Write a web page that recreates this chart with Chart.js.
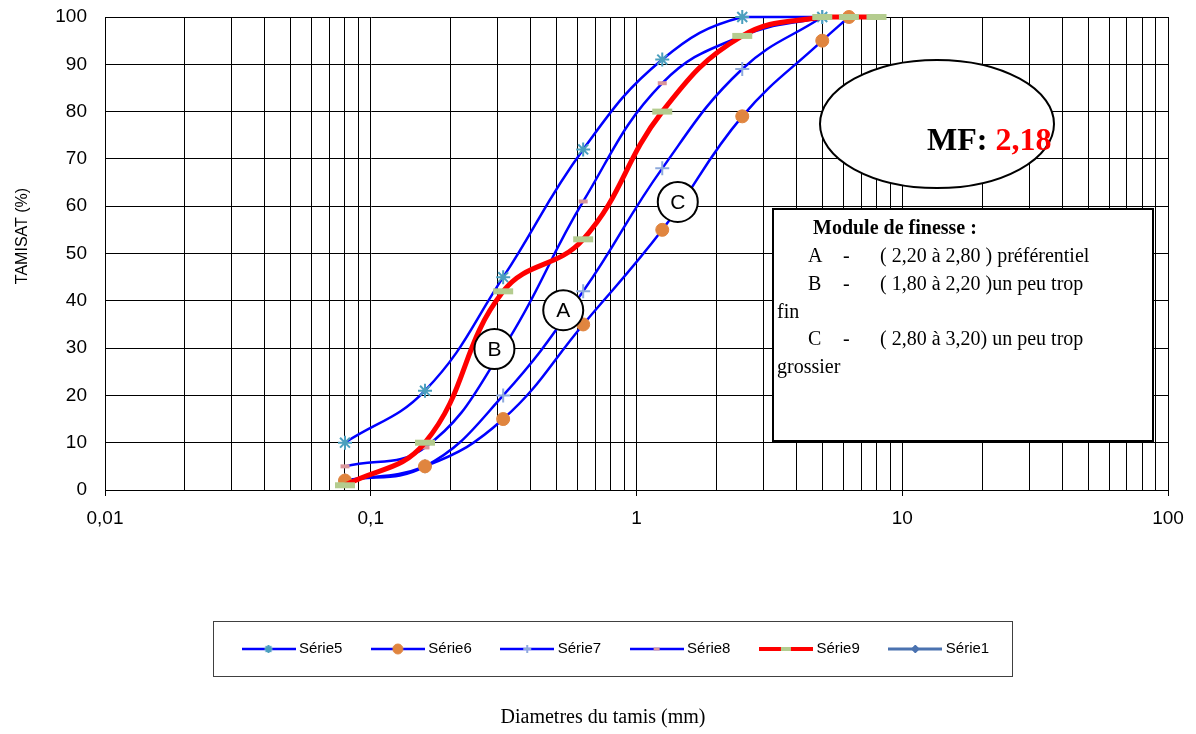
<!DOCTYPE html>
<html>
<head>
<meta charset="utf-8">
<script src="https://cdn.jsdelivr.net/npm/chart.js@4.4.0/dist/chart.umd.min.js"></script>
<style>
  html, body { margin: 0; padding: 0; background: #fff; }
  #wrap { width: 1196px; height: 734px; }
</style>
</head>
<body>
<div id="wrap"><canvas id="chart"></canvas></div>
<script>
// sieve openings (mm) and passing percentages
const sieves = [0.08, 0.16, 0.315, 0.63, 1.25, 2.5, 5, 6.3, 8];
const serie5 = [10, 21, 45, 72, 91, 100, 100];
const serie6 = [2, 5, 15, 35, 55, 79, 95, 100];
const serie7 = [2, 5, 20, 42, 68, 89, 100];
const serie8 = [5, 9, 30, 61, 86, 96, 100];
const serie9 = [1, 10, 42, 53, 80, 96, 100, 100, 100];
const serie1 = [];

const xDecades = [0.01, 0.1, 1, 10, 100];
const xDecadeLabels = ['0,01', '0,1', '1', '10', '100'];

// zone letters placed on the graph (x in mm, y in %)
const zoneLetters = ['A', 'B', 'C'];
const zoneX = [0.53, 0.292, 1.43];
const zoneY = [38, 29.8, 60.9];

const mfLabel = 'MF: ';
const mfValue = '2,18';
const moduleTitle = 'Module de finesse :';
const moduleRows = [
  ['A', '-', '( 2,20 à 2,80 ) préférentiel'],
  ['B', '-', '( 1,80 à 2,20 )un peu trop'],
  ['', '', 'fin'],
  ['C', '-', '( 2,80 à 3,20) un peu trop'],
  ['', '', 'grossier']
];

const pts = (vals) => vals.map((v, i) => ({ x: sieves[i], y: v }));

// minor/major grid positions of the log axis
const gridValues = [];
xDecades.slice(0, -1).forEach(d => { for (let m = 1; m <= 9; m++) gridValues.push(d * m); });
gridValues.push(xDecades[xDecades.length - 1]);

const datasets = [
  { label: 'Série5', data: pts(serie5), borderColor: '#0000ff', borderWidth: 2.5,
    pointStyle: 'star', pointRadius: 7, pointBorderColor: '#4a9fbe', pointBackgroundColor: '#4a9fbe', pointBorderWidth: 2, order: 1,
    legendMarker: { r: 4, bw: 2 } },
  { label: 'Série6', data: pts(serie6), borderColor: '#0000ff', borderWidth: 2.5,
    pointStyle: 'circle', pointRadius: 6.5, pointBorderColor: '#e0853f', pointBackgroundColor: '#e0853f', pointBorderWidth: 1, order: 1,
    legendMarker: { r: 5, bw: 1 } },
  { label: 'Série7', data: pts(serie7), borderColor: '#0000ff', borderWidth: 2.5,
    pointStyle: 'cross', pointRadius: 7, pointBorderColor: '#8eaadb', pointBackgroundColor: '#8eaadb', pointBorderWidth: 2, order: 1,
    legendMarker: { r: 4, bw: 2 } },
  { label: 'Série8', data: pts(serie8), borderColor: '#0000ff', borderWidth: 2.5,
    pointStyle: 'line', pointRadius: 4.5, pointBorderColor: '#d9969b', pointBackgroundColor: '#d9969b', pointBorderWidth: 4, order: 1,
    legendMarker: { r: 3, bw: 3 } },
  { label: 'Série9', data: pts(serie9), borderColor: '#ff0000', borderWidth: 5,
    pointStyle: 'line', pointRadius: 10, pointBorderColor: '#b4cc8f', pointBackgroundColor: '#b4cc8f', pointBorderWidth: 6, order: 0,
    legendMarker: { r: 5, bw: 4 } },
  { label: 'Série1', data: pts(serie1), borderColor: '#4a72b0', borderWidth: 3,
    pointStyle: 'rectRot', pointRadius: 5, pointBorderColor: '#4a72b0', pointBackgroundColor: '#4a72b0', pointBorderWidth: 1, order: 1,
    legendMarker: { r: 4, bw: 1 } }
];

// legend icons: line with marker in the middle
const legendIcons = datasets.map(ds => {
  const c = document.createElement('canvas');
  c.width = 54; c.height = 16;
  const g = c.getContext('2d');
  g.strokeStyle = ds.borderColor;
  g.lineWidth = ds.label === 'Série9' ? 4 : ds.borderWidth;
  g.beginPath(); g.moveTo(0, 8); g.lineTo(54, 8); g.stroke();
  g.strokeStyle = ds.pointBorderColor;
  g.fillStyle = ds.pointBackgroundColor;
  g.lineWidth = ds.legendMarker.bw;
  Chart.helpers.drawPoint(g, { pointStyle: ds.pointStyle, radius: ds.legendMarker.r, rotation: 0, borderWidth: ds.legendMarker.bw }, 27, 8);
  return c;
});

const legendBoxLeft = 213, legendBoxRight = 1012;

const extras = {
  id: 'extras',
  afterLayout(chart) {
    chart.legend.left = legendBoxLeft;
    chart.legend.right = legendBoxRight + 60;
    chart.titleBlock.left += 19;
    chart.titleBlock.right += 19;
  },
  afterDatasetsDraw(chart) {
    const ctx = chart.ctx;
    const xs = chart.scales.x, ys = chart.scales.y;
    ctx.save();
    // lettered circles
    ctx.lineWidth = 2;
    ctx.font = '21px "Liberation Sans"';
    ctx.textAlign = 'center';
    ctx.textBaseline = 'middle';
    zoneLetters.forEach((l, i) => {
      const px = xs.getPixelForValue(zoneX[i]), py = ys.getPixelForValue(zoneY[i]);
      ctx.beginPath(); ctx.arc(px, py, 20, 0, Math.PI * 2);
      ctx.fillStyle = '#fff'; ctx.fill();
      ctx.strokeStyle = '#000'; ctx.stroke();
      ctx.fillStyle = '#000'; ctx.fillText(l, px, py + 1);
    });
    // MF ellipse
    ctx.beginPath(); ctx.ellipse(937, 124, 117, 64, 0, 0, Math.PI * 2);
    ctx.fillStyle = '#fff'; ctx.fill();
    ctx.strokeStyle = '#000'; ctx.stroke();
    ctx.textAlign = 'left';
    ctx.textBaseline = 'alphabetic';
    ctx.font = 'bold 32px "Liberation Serif"';
    ctx.fillStyle = '#000';
    ctx.fillText(mfLabel, 927, 150);
    const w = ctx.measureText(mfLabel).width;
    ctx.fillStyle = '#ff0000';
    ctx.fillText(mfValue, 927 + w, 150);
    // module de finesse box
    ctx.fillStyle = '#fff';
    ctx.fillRect(772, 208, 382, 234);
    ctx.strokeStyle = '#000';
    ctx.lineWidth = 2;
    ctx.strokeRect(773, 209, 380, 232);
    ctx.fillStyle = '#000';
    ctx.font = 'bold 20px "Liberation Serif"';
    ctx.fillText(moduleTitle, 813, 234);
    ctx.font = '20px "Liberation Serif"';
    moduleRows.forEach((r, i) => {
      const by = 262 + i * 27.8;
      if (r[0]) {
        ctx.fillText(r[0], 808, by);
        ctx.fillText(r[1], 843, by);
        ctx.fillText(r[2], 880, by);
      } else {
        ctx.fillText(r[2], 777, by);
      }
    });
    ctx.restore();
  },
  afterDraw(chart) {
    const ctx = chart.ctx;
    const lg = chart.legend;
    ctx.save();
    const cy = lg.top + lg.options.labels.padding + 7.5;
    ctx.strokeStyle = '#404040';
    ctx.lineWidth = 1;
    ctx.strokeRect(legendBoxLeft + 0.5, Math.round(cy - 28) + 0.5, legendBoxRight - legendBoxLeft, 55);
    // y axis title
    ctx.translate(23, 236);
    ctx.rotate(-Math.PI / 2);
    ctx.font = '16px "Liberation Sans"';
    ctx.fillStyle = '#000';
    ctx.textAlign = 'center';
    ctx.textBaseline = 'middle';
    ctx.fillText('TAMISAT (%)', 0, 0);
    ctx.restore();
  }
};

Chart.defaults.font.family = '"Liberation Sans", Arial, sans-serif';

new Chart(document.getElementById('chart'), {
  type: 'line',
  data: { datasets: datasets },
  options: {
    responsive: true,
    maintainAspectRatio: false,
    animation: false,
    events: [],
    layout: { padding: { top: 17, right: 28, bottom: 0, left: 0 } },
    datasets: { line: { tension: 0.42, clip: false, fill: false } },
    scales: {
      x: {
        type: 'logarithmic',
        min: 0.01,
        max: 100,
        afterBuildTicks: (scale) => { scale.ticks = gridValues.map(v => ({ value: v })); },
        afterFit: (scale) => { scale.height = 119; },
        ticks: {
          autoSkip: false, maxRotation: 0, minRotation: 0, padding: 11,
          color: '#000', font: { size: 19 },
          callback: (v) => { const i = xDecades.indexOf(v); return i >= 0 ? xDecadeLabels[i] : ''; }
        },
        grid: {
          color: '#000', lineWidth: 1, drawTicks: true, tickLength: 6,
          tickColor: (c) => (c.tick && xDecades.includes(c.tick.value)) ? '#000' : 'rgba(0,0,0,0)'
        },
        border: { color: '#000', width: 1 }
      },
      y: {
        min: 0,
        max: 100,
        afterFit: (scale) => { scale.width = 105; scale.paddingTop = 0; scale.paddingBottom = 0; },
        ticks: { stepSize: 10, padding: 18, color: '#000', font: { size: 19 } },
        grid: { color: '#000', lineWidth: 1, drawTicks: false },
        border: { color: '#000', width: 1 }
      }
    },
    plugins: {
      tooltip: { enabled: false },
      legend: {
        display: true,
        position: 'bottom',
        align: 'start',
        labels: {
          usePointStyle: true,
          pointStyleWidth: 46,
          boxHeight: 15,
          padding: 32.5,
          color: '#000',
          font: { size: 15 },
          generateLabels: (chart) => chart.data.datasets.map((ds, i) => ({
            text: ds.label, pointStyle: legendIcons[i], fillStyle: 'rgba(0,0,0,0)',
            strokeStyle: 'rgba(0,0,0,0)', lineWidth: 0, hidden: false, datasetIndex: i, fontColor: '#000'
          }))
        }
      },
      title: {
        display: true,
        position: 'bottom',
        text: 'Diametres du tamis (mm)',
        color: '#000',
        font: { family: '"Liberation Serif", serif', size: 20, weight: 'normal' },
        padding: { top: 39.5, bottom: 4 }
      }
    }
  },
  plugins: [extras]
});
</script>
</body>
</html>
